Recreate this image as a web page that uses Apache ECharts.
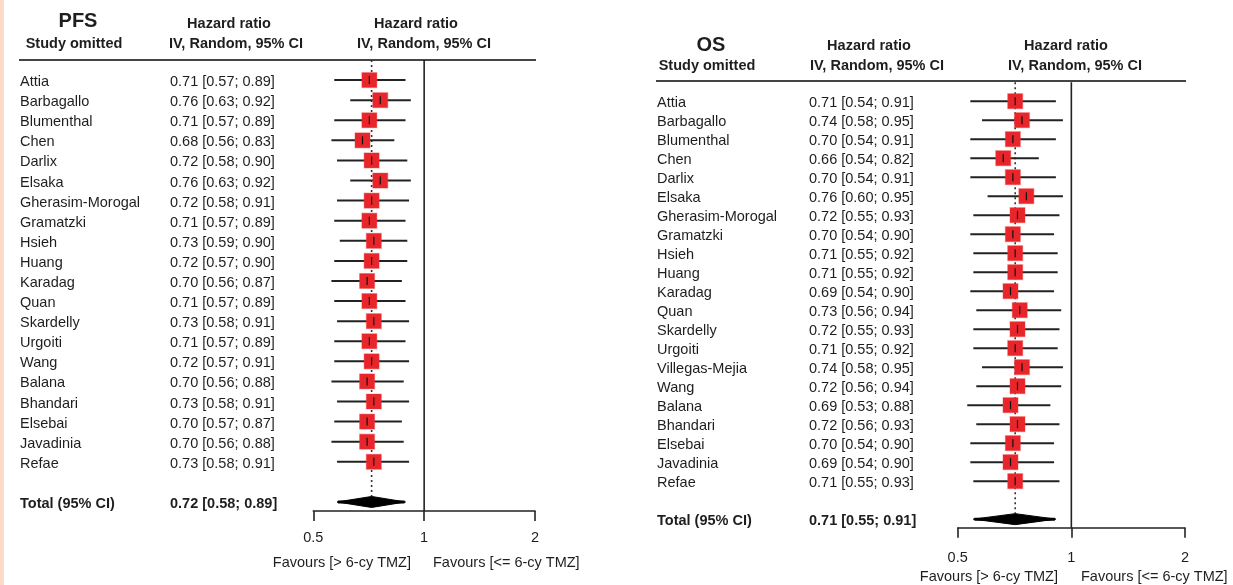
<!DOCTYPE html>
<html>
<head>
<meta charset="utf-8">
<script src="https://cdn.jsdelivr.net/npm/echarts@6/dist/echarts.min.js"></script>
<style>
  html, body { margin: 0; padding: 0; background: #ffffff; }
  #chart { width: 1233px; height: 585px; }
</style>
</head>
<body>
<div id="chart"></div>
<script>
// ---- PFS: leave-one-out sensitivity analysis ----
const pfsStudies = ['Attia', 'Barbagallo', 'Blumenthal', 'Chen', 'Darlix', 'Elsaka', 'Gherasim-Morogal',
  'Gramatzki', 'Hsieh', 'Huang', 'Karadag', 'Quan', 'Skardelly', 'Urgoiti', 'Wang', 'Balana',
  'Bhandari', 'Elsebai', 'Javadinia', 'Refae'];
const pfsHR    = [0.71, 0.76, 0.71, 0.68, 0.72, 0.76, 0.72, 0.71, 0.73, 0.72, 0.70, 0.71, 0.73, 0.71, 0.72, 0.70, 0.73, 0.70, 0.70, 0.73];
const pfsLower = [0.57, 0.63, 0.57, 0.56, 0.58, 0.63, 0.58, 0.57, 0.59, 0.57, 0.56, 0.57, 0.58, 0.57, 0.57, 0.56, 0.58, 0.57, 0.56, 0.58];
const pfsUpper = [0.89, 0.92, 0.89, 0.83, 0.90, 0.92, 0.91, 0.89, 0.90, 0.90, 0.87, 0.89, 0.91, 0.89, 0.91, 0.88, 0.91, 0.87, 0.88, 0.91];
const pfsTotal = [0.72, 0.58, 0.89];

// ---- OS: leave-one-out sensitivity analysis ----
const osStudies = ['Attia', 'Barbagallo', 'Blumenthal', 'Chen', 'Darlix', 'Elsaka', 'Gherasim-Morogal',
  'Gramatzki', 'Hsieh', 'Huang', 'Karadag', 'Quan', 'Skardelly', 'Urgoiti', 'Villegas-Mejia', 'Wang',
  'Balana', 'Bhandari', 'Elsebai', 'Javadinia', 'Refae'];
const osHR    = [0.71, 0.74, 0.70, 0.66, 0.70, 0.76, 0.72, 0.70, 0.71, 0.71, 0.69, 0.73, 0.72, 0.71, 0.74, 0.72, 0.69, 0.72, 0.70, 0.69, 0.71];
const osLower = [0.54, 0.58, 0.54, 0.54, 0.54, 0.60, 0.55, 0.54, 0.55, 0.55, 0.54, 0.56, 0.55, 0.55, 0.58, 0.56, 0.53, 0.56, 0.54, 0.54, 0.55];
const osUpper = [0.91, 0.95, 0.91, 0.82, 0.91, 0.95, 0.93, 0.90, 0.92, 0.92, 0.90, 0.94, 0.93, 0.92, 0.95, 0.94, 0.88, 0.93, 0.90, 0.90, 0.93];
const osTotal = [0.71, 0.55, 0.91];

const xTicks = [0.5, 1, 2];
const totalLabel = 'Total (95% CI)';
const favoursLeft = 'Favours [> 6-cy TMZ]';
const favoursRight = 'Favours [<= 6-cy TMZ]';

const FONT = '"Liberation Sans", Arial, Helvetica, sans-serif';
const TEXT = '#1e1e1e';
const INK = '#222222';
const BOX = '#e8252b';

function fmt(v) { return v.toFixed(2); }
function ciText(h, l, u) { return fmt(h) + ' [' + fmt(l) + '; ' + fmt(u) + ']'; }

// Rows: one per omitted study, then a blank row, then the pooled total
function buildRows(studies, hr, lo, hi, total) {
  const rows = studies.map((s, i) => [hr[i], i, lo[i], hi[i], 0]);
  rows.push([total[0], studies.length + 1, total[1], total[2], 1]);
  return rows;
}

function makeRenderer(studies, nameX, valueX) {
  return function (params, api) {
    const i = params.dataIndex;
    const hr = api.value(0), row = api.value(1), lo = api.value(2), hi = api.value(3), isTotal = api.value(4);
    const c = api.coord([hr, row]);
    const l = api.coord([lo, row]);
    const h = api.coord([hi, row]);
    const y = c[1];
    const weight = isTotal ? 'bold ' : '';
    const font = weight + '14.5px ' + FONT;
    const children = [
      { type: 'text', silent: true,
        style: { text: isTotal ? totalLabel : studies[i], x: nameX, y: y + 2, font: font, fill: TEXT,
                 textAlign: 'left', textVerticalAlign: 'middle', align: 'left', verticalAlign: 'middle' } },
      { type: 'text', silent: true,
        style: { text: ciText(hr, lo, hi), x: valueX, y: y + 2, font: font, fill: TEXT,
                 textAlign: 'left', textVerticalAlign: 'middle', align: 'left', verticalAlign: 'middle' } }
    ];
    if (isTotal) {
      children.push(
        { type: 'line', shape: { x1: l[0] + 1, y1: y, x2: h[0] - 1, y2: y }, style: { stroke: '#000', lineWidth: 3 } },
        { type: 'polygon',
          shape: { points: [[l[0], y], [c[0], y - 5.5], [h[0], y], [c[0], y + 5.5]] },
          style: { fill: '#000', stroke: '#000', lineWidth: 1 } }
      );
    } else {
      const s = 15;
      children.push(
        { type: 'line', shape: { x1: l[0], y1: y, x2: h[0], y2: y }, style: { stroke: INK, lineWidth: 2 } },
        { type: 'rect', shape: { x: c[0] - s / 2, y: y - s / 2, width: s, height: s },
          style: { fill: BOX, stroke: 'rgba(235,60,60,0.35)', lineWidth: 1.2 } },
        { type: 'line', shape: { x1: c[0], y1: y - 4, x2: c[0], y2: y + 4 }, style: { stroke: '#111', lineWidth: 1.2 } }
      );
    }
    return { type: 'group', children: children };
  };
}

const pfsRows = buildRows(pfsStudies, pfsHR, pfsLower, pfsUpper, pfsTotal);
const osRows = buildRows(osStudies, osHR, osLower, osUpper, osTotal);

const PANELS = [
  { grid: { left: 313.3, top: 60, width: 221.7, height: 451 }, yMax: 21.45, labelMargin: 19,
    rows: pfsRows, studies: pfsStudies, total: pfsTotal, nameX: 20, valueX: 170 },
  { grid: { left: 957.7, top: 82.2, width: 227.3, height: 445.5 }, yMax: 22.45, labelMargin: 23,
    rows: osRows, studies: osStudies, total: osTotal, nameX: 657, valueX: 809 }
];

const grids = [], xAxes = [], yAxes = [], series = [];
PANELS.forEach((p, k) => {
  grids.push(Object.assign({ containLabel: false }, p.grid));
  xAxes.push({
    type: 'log', logBase: 2, min: xTicks[0], max: xTicks[xTicks.length - 1], gridIndex: k, position: 'bottom',
    axisLine: { show: true, onZero: false, lineStyle: { color: INK, width: 1.6 } },
    axisTick: { show: true, inside: false, length: 10, lineStyle: { color: INK, width: 1.6 } },
    axisLabel: { show: true, color: TEXT, fontSize: 14.5, fontFamily: FONT, margin: p.labelMargin,
                 formatter: v => String(Math.round(v * 10) / 10) },
    splitLine: { show: false }
  });
  yAxes.push({ type: 'value', inverse: true, min: -1, max: p.yMax, gridIndex: k, show: false });
  const totalRow = p.studies.length + 1;
  // line of no effect
  series.push({
    type: 'line', xAxisIndex: k, yAxisIndex: k, symbol: 'none', silent: true, z: 1,
    data: [[1, -1], [1, p.yMax]], lineStyle: { color: INK, width: 1.6 }
  });
  // pooled estimate reference
  series.push({
    type: 'line', xAxisIndex: k, yAxisIndex: k, symbol: 'none', silent: true, z: 1,
    data: [[p.total[0], -1], [p.total[0], totalRow - 0.3]],
    lineStyle: { color: '#333', width: 1.6, type: [2, 3] }
  });
  series.push({
    type: 'custom', xAxisIndex: k, yAxisIndex: k, clip: false, z: 3, silent: true,
    encode: { x: [0, 2, 3], y: 1 },
    renderItem: makeRenderer(p.studies, p.nameX, p.valueX),
    data: p.rows
  });
});

function txt(text, x, y, opts) {
  opts = opts || {};
  return {
    type: 'text', silent: true,
    style: { text: text, x: x, y: y, fill: TEXT,
             font: (opts.bold ? 'bold ' : '') + (opts.size || 14.5) + 'px ' + FONT,
             textAlign: opts.align || 'center', align: opts.align || 'center',
             textVerticalAlign: 'middle', verticalAlign: 'middle' }
  };
}
function hline(x1, x2, y) {
  return { type: 'line', silent: true, shape: { x1: x1, y1: y, x2: x2, y2: y }, style: { stroke: '#444', lineWidth: 2 } };
}

const graphic = [
  { type: 'rect', silent: true, shape: { x: 0, y: 0, width: 4, height: 585 }, style: { fill: '#fdd9c8' } },
  // PFS headers
  txt('PFS', 78, 21, { bold: true, size: 20 }),
  txt('Study omitted', 74, 44, { bold: true }),
  txt('Hazard ratio', 229, 24, { bold: true }),
  txt('IV, Random, 95% CI', 236, 44, { bold: true }),
  txt('Hazard ratio', 416, 24, { bold: true }),
  txt('IV, Random, 95% CI', 424, 44, { bold: true }),
  hline(19, 536, 60),
  txt(favoursLeft, 411, 563, { align: 'right' }),
  txt(favoursRight, 433, 563, { align: 'left' }),
  // OS headers
  txt('OS', 711, 45, { bold: true, size: 20 }),
  txt('Study omitted', 707, 66, { bold: true }),
  txt('Hazard ratio', 869, 46, { bold: true }),
  txt('IV, Random, 95% CI', 877, 66, { bold: true }),
  txt('Hazard ratio', 1066, 46, { bold: true }),
  txt('IV, Random, 95% CI', 1075, 66, { bold: true }),
  hline(656, 1186, 81),
  txt(favoursLeft, 1058, 577, { align: 'right' }),
  txt(favoursRight, 1081, 577, { align: 'left' })
];

const chart = echarts.init(document.getElementById('chart'), null, { renderer: 'canvas' });
chart.setOption({
  animation: false,
  backgroundColor: '#ffffff',
  grid: grids,
  xAxis: xAxes,
  yAxis: yAxes,
  series: series,
  graphic: graphic
});
</script>
</body>
</html>
